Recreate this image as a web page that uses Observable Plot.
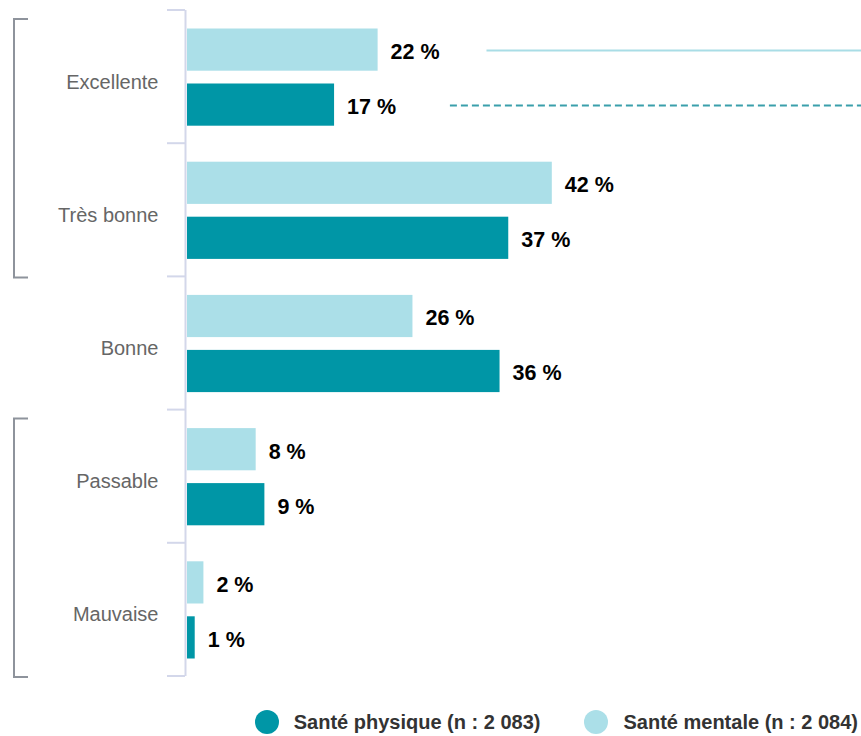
<!DOCTYPE html>
<html><head><meta charset="utf-8">
<script src="https://cdn.jsdelivr.net/npm/d3@7"></script>
<script src="https://cdn.jsdelivr.net/npm/@observablehq/plot@0.6"></script>
<style>
body{margin:0;background:#fff;font-family:"Liberation Sans",Arial,sans-serif;}
#legend{display:flex;justify-content:flex-end;align-items:center;height:44px;padding-right:3px;gap:44px;font-weight:bold;font-size:20px;color:#333;}
.item{display:flex;align-items:center;white-space:nowrap;}
.sw{width:24px;height:24px;border-radius:50%;margin-right:15px;}
</style></head><body>
<div id="chart"></div>
<div id="legend"></div>
<script>
const categories = ["Excellente", "Très bonne", "Bonne", "Passable", "Mauvaise"];
const santeMentale = [22, 42, 26, 8, 2];
const santePhysique = [17, 37, 36, 9, 1];
const seriesLabels = ["Santé physique (n : 2 083)", "Santé mentale (n : 2 084)"];
const seriesColors = ["#0096a6", "#abdfe8"];
const groups = [["Excellente", "Très bonne"], ["Passable", "Mauvaise"]];
const refLines = [
  {series: "mentale", category: "Excellente", from: 34.5, to: 77.5},
  {series: "physique", category: "Excellente", from: 30.3, to: 77.5}
];
const xMax = 77.5;

const mentaleRows = categories.map((c, i) => ({cat: c, value: santeMentale[i]}));
const physiqueRows = categories.map((c, i) => ({cat: c, value: santePhysique[i]}));

const chart = Plot.plot({
  width: 861,
  height: 700,
  marginLeft: 186,
  marginRight: 0,
  marginTop: 10,
  marginBottom: 24,
  style: {fontFamily: "'Liberation Sans', Arial, sans-serif", fontSize: "20px", color: "#666", background: "#fff"},
  x: {domain: [0, xMax], axis: null},
  y: {domain: categories, padding: 0, round: false, axis: null},
  marks: [
    Plot.ruleX([0], {stroke: "#d3d7ea", strokeWidth: 2, dx: -1}),
    Plot.text(categories, {y: d => d, text: d => d, frameAnchor: "left", textAnchor: "end", dx: -28, dy: 5, fill: "#666", fontSize: 20}),
    Plot.barX(mentaleRows, {x: "value", y: "cat", fill: seriesColors[1], insetTop: 18.5, insetBottom: 72.5, insetLeft: 1}),
    Plot.barX(physiqueRows, {x: "value", y: "cat", fill: seriesColors[0], insetTop: 73.5, insetBottom: 17.5, insetLeft: 1}),
    Plot.text(mentaleRows, {x: "value", y: "cat", text: d => d.value + " %", dx: 12.5, dy: -25, textAnchor: "start", fill: "#000", fontWeight: "bold", fontSize: 21.5}),
    Plot.text(physiqueRows, {x: "value", y: "cat", text: d => d.value + " %", dx: 12.5, dy: 30, textAnchor: "start", fill: "#000", fontWeight: "bold", fontSize: 21.5}),
    Plot.ruleY(refLines.filter(d => d.series === "mentale"), {y: "category", x1: "from", x2: "to", dy: -26.5, stroke: "#a9dde6", strokeWidth: 2}),
    Plot.ruleY(refLines.filter(d => d.series === "physique"), {y: "category", x1: "from", x2: "to", dy: 28.5, stroke: "#3a9fab", strokeWidth: 2, strokeDasharray: "7,4"})
  ]
});
document.getElementById("chart").appendChild(chart);

// decorations: boundary ticks and group brackets, positioned via the y scale
const ys = chart.scale("y");
const step = ys.bandwidth;
const y0 = ys.range[0];
const svg = d3.select(chart);
const g = svg.append("g");
for (let i = 0; i <= categories.length; i++) {
  const yy = y0 + i * step;
  g.append("line").attr("x1", 167).attr("x2", 185).attr("y1", yy).attr("y2", yy)
    .attr("stroke", "#d3d7ea").attr("stroke-width", 2);
}
groups.forEach(grp => {
  const a = categories.indexOf(grp[0]), b = categories.indexOf(grp[grp.length - 1]);
  const top = y0 + a * step + 9, bot = y0 + (b + 1) * step + 1;
  g.append("path").attr("d", `M28,${top}H14V${bot}H28`).attr("fill", "none")
    .attr("stroke", "#8e939c").attr("stroke-width", 2);
});

const legend = document.getElementById("legend");
seriesLabels.forEach((s, i) => {
  const it = document.createElement("div"); it.className = "item";
  const sw = document.createElement("span"); sw.className = "sw"; sw.style.background = seriesColors[i];
  it.appendChild(sw); it.appendChild(document.createTextNode(s));
  legend.appendChild(it);
});
</script>
</body></html>
